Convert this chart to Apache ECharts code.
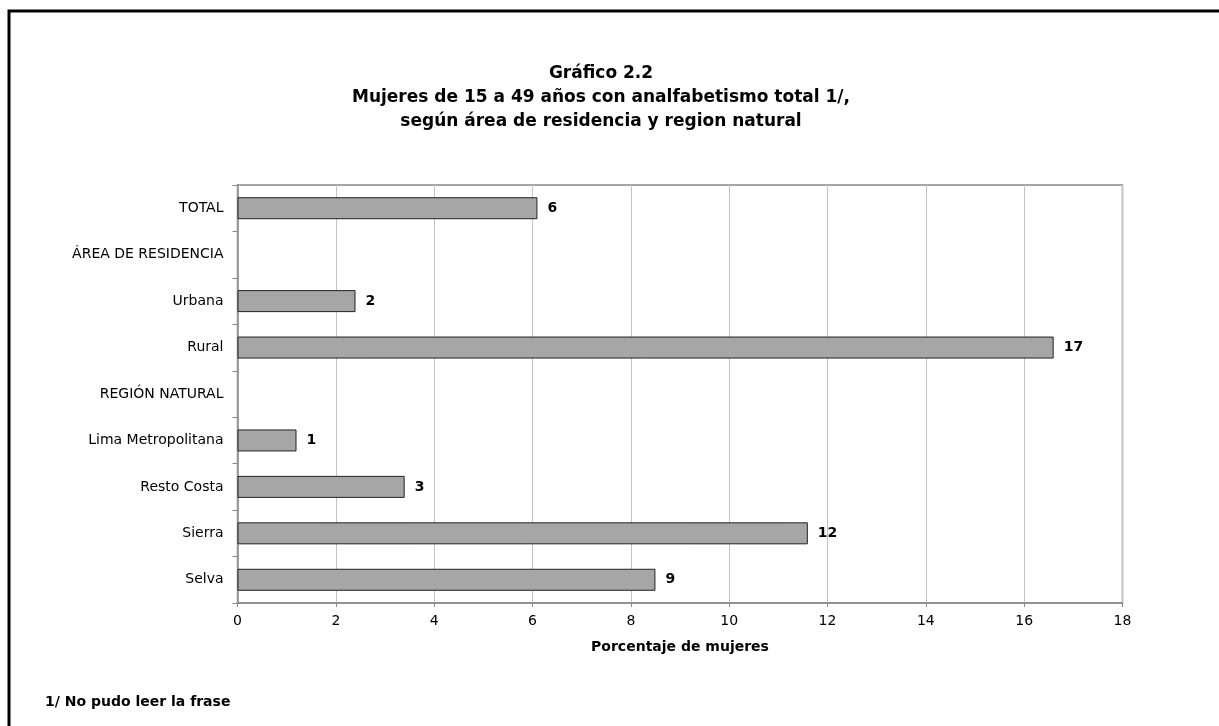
<!DOCTYPE html>
<html>
<head>
<meta charset="utf-8">
<script src="https://cdn.jsdelivr.net/npm/echarts@6/dist/echarts.min.js"></script>
<style>
  html, body { margin: 0; padding: 0; background: #fff; }
</style>
</head>
<body>
<div id="main" style="width:1219px;height:726px"></div>
<script>
// categorias (de arriba hacia abajo)
const categorias = [
  'TOTAL',
  'ÁREA DE RESIDENCIA',
  'Urbana',
  'Rural',
  'REGIÓN NATURAL',
  'Lima Metropolitana',
  'Resto Costa',
  'Sierra',
  'Selva'
];
// porcentaje de mujeres con analfabetismo total ('-' = fila de encabezado)
const porcentajes = [6.1, '-', 2.4, 16.6, '-', 1.2, 3.4, 11.6, 8.5];
// marcas del eje x
const ticksX = [0, 2, 4, 6, 8, 10, 12, 14, 16, 18];

const tituloLineas = [
  'Gráfico 2.2',
  'Mujeres de 15 a 49 años con analfabetismo total 1/,',
  'según área de residencia y region natural'
];
const nombreEjeX = 'Porcentaje de mujeres';
const notaPie = '1/ No pudo leer la frase';

const fuente = '"DejaVu Sans", "Liberation Sans", Arial, sans-serif';

let myChart = echarts.init(document.getElementById('main'));

let option = {
  animation: false,
  backgroundColor: '#fff',
  textStyle: { fontFamily: fuente },
  graphic: [
    {
      type: 'rect',
      shape: { x: 9, y: 11, width: 1230, height: 740 },
      style: { fill: 'none', stroke: '#000', lineWidth: 3 },
      silent: true
    },
    {
      type: 'text',
      x: 601,
      y: 62,
      style: {
        text: tituloLineas.join('\n'),
        fontFamily: fuente,
        fontSize: 17,
        fontWeight: 'bold',
        fill: '#000',
        align: 'center',
        verticalAlign: 'top',
        lineHeight: 24
      }
    },
    {
      type: 'text',
      x: 45,
      y: 702,
      style: {
        text: notaPie,
        fontFamily: fuente,
        fontSize: 14,
        fontWeight: 'bold',
        fill: '#000',
        align: 'left',
        verticalAlign: 'middle'
      }
    }
  ],
  grid: {
    left: 237.5,
    right: 96.5,
    top: 185,
    bottom: 123,
    show: true,
    borderColor: '#888',
    borderWidth: 1.5,
    backgroundColor: '#fff'
  },
  xAxis: {
    type: 'value',
    min: ticksX[0],
    max: ticksX[ticksX.length - 1],
    interval: 2,
    name: nombreEjeX,
    nameLocation: 'middle',
    nameGap: 37,
    nameTextStyle: { fontSize: 14, fontWeight: 'bold', color: '#000', fontFamily: fuente },
    axisLine: { show: true, lineStyle: { color: '#888', width: 1.5 } },
    axisTick: { show: true, length: 4, lineStyle: { color: '#888' } },
    axisLabel: { fontSize: 14, color: '#000', margin: 11, fontFamily: fuente },
    splitLine: { show: true, lineStyle: { color: '#c4c4c4', width: 1 } }
  },
  yAxis: {
    type: 'category',
    data: categorias,
    inverse: true,
    axisLine: { show: true, lineStyle: { color: '#888', width: 1.5 } },
    axisTick: { show: true, length: 5, inside: false, lineStyle: { color: '#888' } },
    axisLabel: { fontSize: 14, color: '#000', margin: 14, fontFamily: fuente },
    splitLine: { show: false }
  },
  series: [
    {
      type: 'bar',
      data: porcentajes,
      barWidth: 22,
      itemStyle: {
        color: '#a6a6a6',
        borderColor: '#222',
        borderWidth: 1
      },
      label: {
        show: true,
        position: 'right',
        distance: 10,
        fontSize: 14,
        fontWeight: 'bold',
        color: '#000',
        fontFamily: fuente,
        formatter: p => Math.round(p.value)
      }
    }
  ]
};

myChart.setOption(option);
</script>
</body>
</html>
